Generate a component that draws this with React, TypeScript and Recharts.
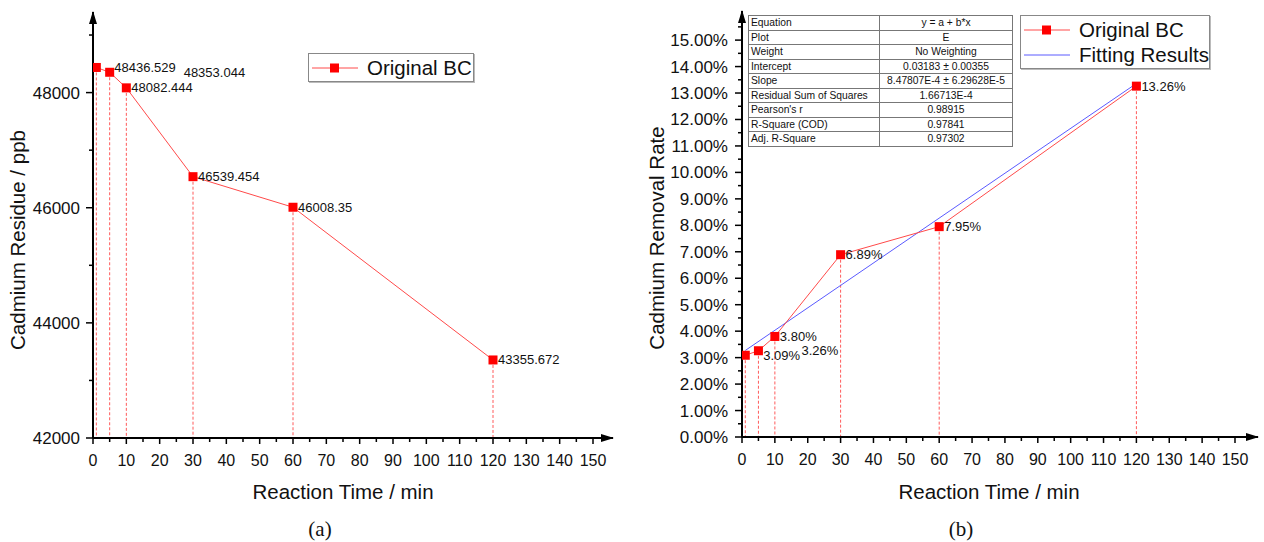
import React from 'react';
import { ComposedChart, Line, XAxis, YAxis, ReferenceLine, ReferenceDot, LabelList } from 'recharts';

// ---------- data ----------
const timeA = [1, 5, 10, 30, 60, 120];
const residue = [48436.529, 48353.044, 48082.444, 46539.454, 46008.35, 43355.672];

const timeB = [1, 5, 10, 30, 60, 120];
const removalRate = [3.09, 3.26, 3.8, 6.89, 7.95, 13.26]; // percent

const fitTime = [1, 120];
const fitRate = [3.27, 13.36]; // percent

const xTicks = [0, 5, 10, 15, 20, 25, 30, 35, 40, 45, 50, 55, 60, 65, 70, 75, 80, 85, 90, 95, 100, 105, 110, 115, 120, 125, 130, 135, 140, 145, 150];
const yTicksA = [42000, 43000, 44000, 45000, 46000, 47000, 48000, 49000];
const yTicksB = [0, 0.5, 1, 1.5, 2, 2.5, 3, 3.5, 4, 4.5, 5, 5.5, 6, 6.5, 7, 7.5, 8, 8.5, 9, 9.5, 10, 10.5, 11, 11.5, 12, 12.5, 13, 13.5, 14, 14.5, 15, 15.5];

const tableRows = ['Equation', 'Plot', 'Weight', 'Intercept', 'Slope', 'Residual Sum of Squares', "Pearson's r", 'R-Square (COD)', 'Adj. R-Square'];
const tableValues = ['y = a + b*x', 'E', 'No Weighting', '0.03183 \u00b1 0.00355', '8.47807E-4 \u00b1 6.29628E-5', '1.66713E-4', '0.98915', '0.97841', '0.97302'];

// label horizontal offsets (style only)
const labelDxA = [18, 74, 5, 5, 5, 5];
const labelDyA = [0, 0, 0, 0, 0, 0];
const labelDxB = [18, 43, 5, 5, 5, 5];
const labelDyB = [0, 0, 0, 0, 0, 0];

const dataA = timeA.map((t, i) => ({ x: t, y: residue[i] }));
const dataB = timeB.map((t, i) => ({ x: t, y: removalRate[i] }));
const dataFit = fitTime.map((t, i) => ({ x: t, y: fitRate[i] }));

const FONT = "'Liberation Sans', Arial, sans-serif";
const RED = '#ff0000';
const LINE_RED = '#ff4a4a';
const DROP_RED = '#ff5a5a';
const BLUE = '#5a5aff';

const XTick = (props: any) => {
  const { x, y, payload } = props;
  const v = payload.value;
  const major = v % 10 === 0;
  return (
    <g>
      <line x1={x} x2={x} y1={y} y2={y + (major ? 6 : 4)} stroke="#000" strokeWidth={1.5} />
      {major && (
        <text x={x} y={y + 28} textAnchor="middle" fontSize={16} fontFamily={FONT} fill="#111">
          {v}
        </text>
      )}
    </g>
  );
};

const makeYTick = (isMajor: (v: number) => boolean, fmt: (v: number) => string, gap: number) => (props: any) => {
  const { x, y, payload } = props;
  const v = payload.value;
  const major = isMajor(v);
  return (
    <g>
      <line x1={x} x2={x - (major ? 7 : 4)} y1={y} y2={y} stroke="#000" strokeWidth={1.5} />
      {major && (
        <text x={x - gap} y={y + 6} textAnchor="end" fontSize={17} fontFamily={FONT} fill="#111">
          {fmt(v)}
        </text>
      )}
    </g>
  );
};

const YTickA = makeYTick((v) => v % 2000 === 0, (v) => String(v), 13);
const YTickB = makeYTick((v) => Number.isInteger(v), (v) => v.toFixed(2) + '%', 14);

const SquareDot = (props: any) => {
  const { cx, cy, index } = props;
  if (cx == null || cy == null) return <g key={index} />;
  return <rect key={index} x={cx - 4.5} y={cy - 4.5} width={9} height={9} fill={RED} />;
};

const UpArrow = (props: any) => {
  const { cx, cy } = props;
  return <path d={`M${cx},${cy - 1} L${cx - 4},${cy + 12} L${cx + 4},${cy + 12} Z`} fill="#000" />;
};
const RightArrow = (props: any) => {
  const { cx, cy } = props;
  return <path d={`M${cx + 1},${cy} L${cx - 12},${cy - 4} L${cx - 12},${cy + 4} Z`} fill="#000" />;
};

const makeLabel = (dxs: number[], dys: number[], fmt: (v: number) => string) => (props: any) => {
  const { x, y, value, index } = props;
  return (
    <text x={x + dxs[index]} y={y + dys[index] + 4.5} fontSize={13} fontFamily={FONT} fill="#111">
      {fmt(value)}
    </text>
  );
};

const LegendBox = ({ left, top, width, items }: any) => (
  <div
    style={{
      position: 'absolute',
      left,
      top,
      width,
      border: '1px solid #888',
      boxShadow: '1px 1px 0 #bbb',
      background: '#fff',
      fontFamily: FONT,
      fontSize: 20.5,
      color: '#111',
      padding: '1px 0',
    }}
  >
    {items.map((it: any) => (
      <div key={it.name} style={{ display: 'flex', alignItems: 'center', height: 25 }}>
        <svg width={54} height={20} style={{ marginLeft: 2 }}>
          <line x1={1} x2={47} y1={10} y2={10} stroke={it.color} strokeWidth={1} />
          {it.marker && <rect x={19} y={5.5} width={9} height={9} fill={RED} />}
        </svg>
        <span style={{ marginLeft: 2, lineHeight: '25px' }}>{it.name}</span>
      </div>
    ))}
  </div>
);

export default function App() {
  return (
    <div style={{ position: 'absolute', left: 0, top: 0, width: 1264, height: 542, background: '#fff', overflow: 'hidden' }}>
      {/* Panel (a) */}
      <div style={{ position: 'absolute', left: 0, top: 0 }}>
        <ComposedChart width={640} height={542} margin={{ top: 12, right: 27, bottom: 0, left: 0 }}>
          <XAxis
            dataKey="x"
            type="number"
            domain={[0, 156]}
            ticks={xTicks}
            interval={0}
            tick={<XTick />}
            tickLine={false}
            tickSize={0}
            tickMargin={0}
            height={104}
            axisLine={{ stroke: '#000', strokeWidth: 2 }}
            allowDataOverflow
          />
          <YAxis
            type="number"
            domain={[42000, 49400]}
            ticks={yTicksA}
            interval={0}
            tick={<YTickA />}
            tickLine={false}
            tickSize={0}
            tickMargin={0}
            width={93}
            axisLine={{ stroke: '#000', strokeWidth: 2 }}
            allowDataOverflow
          />
          {dataA.map((d, i) => (
            <ReferenceLine
              key={'da' + i}
              segment={[{ x: d.x, y: d.y }, { x: d.x, y: 42000 }]}
              stroke={DROP_RED}
              strokeWidth={1}
              strokeDasharray="3 2"
            />
          ))}
          <Line
            data={dataA}
            dataKey="y"
            stroke={LINE_RED}
            strokeWidth={1}
            dot={SquareDot}
            activeDot={false}
            isAnimationActive={false}
          >
            <LabelList dataKey="y" content={makeLabel(labelDxA, labelDyA, (v) => String(v))} />
          </Line>
          <ReferenceDot x={0} y={49400} r={0} shape={UpArrow} />
          <ReferenceDot x={156} y={42000} r={0} shape={RightArrow} />
        </ComposedChart>
      </div>

      {/* Panel (b) */}
      <div style={{ position: 'absolute', left: 640, top: 0 }}>
        <ComposedChart width={624} height={542} margin={{ top: 11, right: 6, bottom: 0, left: 0 }}>
          <XAxis
            dataKey="x"
            type="number"
            domain={[0, 157]}
            ticks={xTicks}
            interval={0}
            tick={<XTick />}
            tickLine={false}
            tickSize={0}
            tickMargin={0}
            height={105}
            axisLine={{ stroke: '#000', strokeWidth: 2 }}
            allowDataOverflow
          />
          <YAxis
            type="number"
            domain={[0, 16.1]}
            ticks={yTicksB}
            interval={0}
            tick={<YTickB />}
            tickLine={false}
            tickSize={0}
            tickMargin={0}
            width={102}
            axisLine={{ stroke: '#000', strokeWidth: 2 }}
            allowDataOverflow
          />
          {dataB.map((d, i) => (
            <ReferenceLine
              key={'db' + i}
              segment={[{ x: d.x, y: d.y }, { x: d.x, y: 0 }]}
              stroke={DROP_RED}
              strokeWidth={1}
              strokeDasharray="3 2"
            />
          ))}
          <Line
            data={dataFit}
            dataKey="y"
            stroke={BLUE}
            strokeWidth={1}
            dot={false}
            activeDot={false}
            isAnimationActive={false}
          />
          <Line
            data={dataB}
            dataKey="y"
            stroke={LINE_RED}
            strokeWidth={1}
            dot={SquareDot}
            activeDot={false}
            isAnimationActive={false}
          >
            <LabelList dataKey="y" content={makeLabel(labelDxB, labelDyB, (v) => v.toFixed(2) + '%')} />
          </Line>
          <ReferenceDot x={0} y={16.1} r={0} shape={UpArrow} />
          <ReferenceDot x={157} y={0} r={0} shape={RightArrow} />
        </ComposedChart>
      </div>

      {/* Titles */}
      <svg width={1264} height={542} style={{ position: 'absolute', left: 0, top: 0, pointerEvents: 'none' }}>
        <text x={17} y={240} transform="rotate(-90 17 240)" textAnchor="middle" dominantBaseline="central" fontSize={20.5} fontFamily={FONT} fill="#111">
          Cadmium Residue / ppb
        </text>
        <text x={343} y={491} textAnchor="middle" dominantBaseline="central" fontSize={20.5} fontFamily={FONT} fill="#111">
          Reaction Time / min
        </text>
        <text x={320} y={529} textAnchor="middle" dominantBaseline="central" fontSize={21} fontFamily="'Liberation Serif', 'DejaVu Serif', serif" fill="#111">
          (a)
        </text>
        <text x={656} y={238} transform="rotate(-90 656 238)" textAnchor="middle" dominantBaseline="central" fontSize={20.5} fontFamily={FONT} fill="#111">
          Cadmium Removal Rate
        </text>
        <text x={989} y={491} textAnchor="middle" dominantBaseline="central" fontSize={20.5} fontFamily={FONT} fill="#111">
          Reaction Time / min
        </text>
        <text x={961} y={529} textAnchor="middle" dominantBaseline="central" fontSize={21} fontFamily="'Liberation Serif', 'DejaVu Serif', serif" fill="#111">
          (b)
        </text>
      </svg>

      {/* Legends */}
      <LegendBox left={308} top={53} width={164} items={[{ name: 'Original BC', color: LINE_RED, marker: true }]} />
      <LegendBox
        left={1020}
        top={15}
        width={188}
        items={[
          { name: 'Original BC', color: LINE_RED, marker: true },
          { name: 'Fitting Results', color: BLUE, marker: false },
        ]}
      />

      {/* Fit statistics table */}
      <table
        style={{
          position: 'absolute',
          left: 748,
          top: 15,
          width: 264,
          borderCollapse: 'collapse',
          tableLayout: 'fixed',
          fontFamily: FONT,
          fontSize: 10.3,
          color: '#111',
          background: '#fff',
          border: '1px solid #666',
        }}
      >
        <colgroup>
          <col style={{ width: 131 }} />
          <col style={{ width: 133 }} />
        </colgroup>
        <tbody>
          {tableRows.map((r, i) => (
            <tr key={r}>
              <td style={{ border: '1px solid #777', height: 13.5, padding: '0 2px', lineHeight: '13px', whiteSpace: 'nowrap' }}>{r}</td>
              <td style={{ border: '1px solid #777', height: 13.5, padding: '0 1px', lineHeight: '13px', textAlign: 'center', whiteSpace: 'nowrap' }}>
                {tableValues[i]}
              </td>
            </tr>
          ))}
        </tbody>
      </table>
    </div>
  );
}
